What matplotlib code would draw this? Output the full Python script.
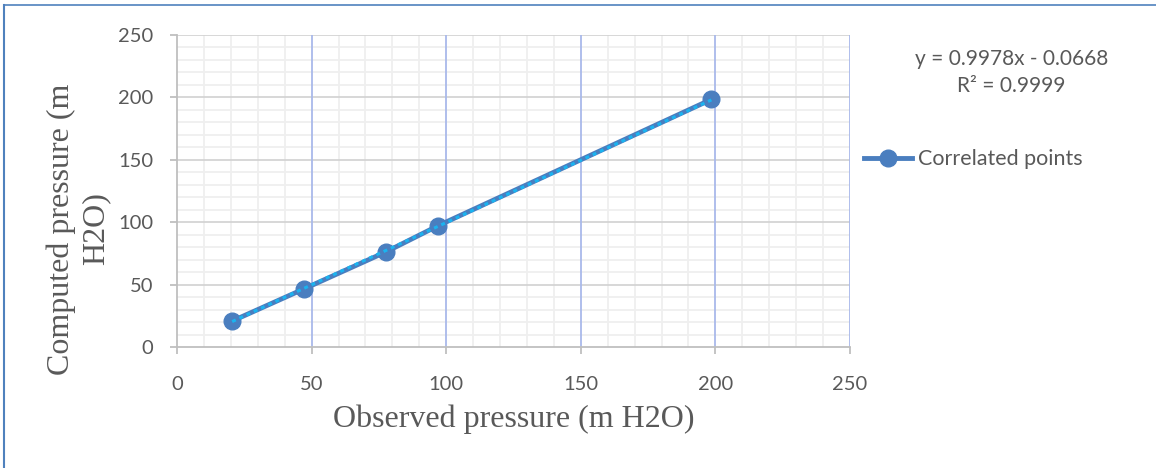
import matplotlib
matplotlib.use("Agg")
import matplotlib.pyplot as plt
import numpy as np
from matplotlib.lines import Line2D

# data
observed = [20.5, 47.2, 77.6, 97.0, 198.5]
computed = [20.8, 46.6, 76.2, 97.2, 198.4]
slope, intercept = 0.9978, -0.0668
ticks = [0, 50, 100, 150, 200, 250]

line_col = '#4a7ebf'
trend_col = '#1ab4f0'
txt_col = '#595959'

fig = plt.figure(figsize=(11.56, 4.68), dpi=100)
ax = fig.add_axes([0.1531, 0.2585, 0.5822, 0.6667])

ax.set_xlim(0, 250)
ax.set_ylim(0, 250)
ax.set_xticks(ticks)
ax.set_yticks(ticks)
minor = [v for v in range(0, 251, 10) if v % 50]
ax.set_xticks(minor, minor=True)
ax.set_yticks(minor, minor=True)

# minor grid through the axis, major grid drawn on top of it
ax.grid(which='minor', color='#efefef', lw=1.3)
ax.set_axisbelow(True)
ax.hlines(ticks[1:], 0, 250, color='#d4d4d4', lw=1.3, zorder=0.8)
ax.vlines(ticks[1:], 0, 250, color='#a9b9ea', lw=1.3, zorder=0.9)

for s in ['top', 'right']:
    ax.spines[s].set_visible(False)
for s in ['left', 'bottom']:
    ax.spines[s].set_color('#bfbfbf')
    ax.spines[s].set_linewidth(1.3)

ax.tick_params(which='major', length=5, width=1.3, color='#bfbfbf',
               labelsize=14.5, labelcolor=txt_col)
ax.tick_params(axis='x', pad=16)
ax.tick_params(axis='y', pad=12)
ax.tick_params(which='minor', length=0)
for lab in ax.get_xticklabels() + ax.get_yticklabels():
    lab.set_family('Lato')

ax.plot(observed, computed, color=line_col, lw=3.5, marker='o', ms=12,
        zorder=3, label='Correlated points')
xt = np.array([observed[0], observed[-1]])
ax.plot(xt, slope * xt + intercept, color=trend_col, lw=2.2, ls=(0, (1.3, 1.3)),
        zorder=4)

ax.set_xlabel('Observed pressure (m H2O)', family='Liberation Serif',
              fontsize=23, color=txt_col, labelpad=8)
fig.text(0.068, 0.511, 'Computed pressure (m\nH2O)', family='Liberation Serif',
         fontsize=23, color=txt_col, rotation=90, ha='center', va='center',
         multialignment='center', linespacing=1.25)

fig.text(0.875, 0.845, 'y = 0.9978x - 0.0668\nR\u00b2 = 0.9999', family='Lato',
         fontsize=15, color=txt_col, ha='center', va='center', linespacing=1.45)

handle = Line2D([], [], color=line_col, lw=3.5, marker='o', ms=12)
fig.legend([handle], ['Correlated points'], loc='center left',
           bbox_to_anchor=(0.731, 0.66), frameon=False, handlelength=2.2,
           handletextpad=0.3, prop={'family': 'Lato', 'size': 15.5},
           labelcolor=txt_col)

# frame lines at the left and top of the picture
fig.add_artist(Line2D([0.0035, 0.0035], [0, 0.99], color='#4f81bd', lw=1.5,
                      transform=fig.transFigure))
fig.add_artist(Line2D([0.0035, 1], [0.99, 0.99], color='#4f81bd', lw=1.2,
                      transform=fig.transFigure))

fig.savefig('out.png', dpi=100)
